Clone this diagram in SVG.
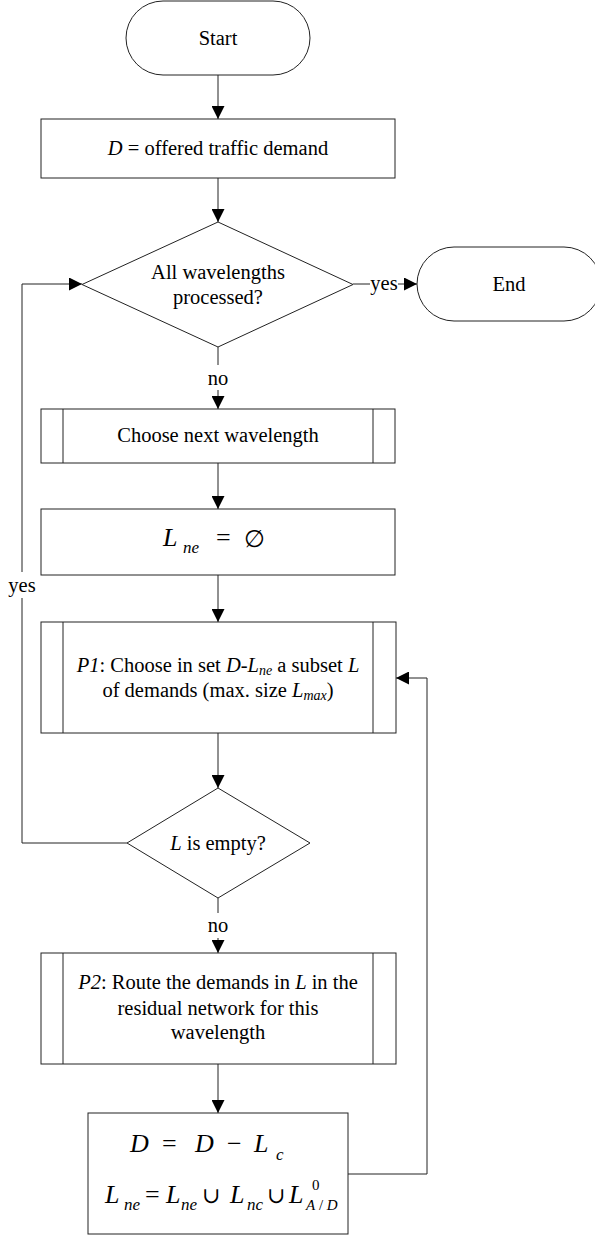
<svg xmlns="http://www.w3.org/2000/svg" width="595" height="1236" viewBox="0 0 595 1236" font-family="Liberation Serif, Times New Roman, serif">
<style>
.s{fill:#fff;stroke:#222;stroke-width:1}
.l{fill:none;stroke:#222;stroke-width:1}
.t{font-family:'Liberation Serif', serif;font-size:20.5px;fill:#000;text-anchor:middle}
.m{font-family:'Liberation Serif', 'DejaVu Serif', serif;fill:#000}
.i{font-style:italic}
</style>
<defs>
<marker id="ah" markerUnits="userSpaceOnUse" markerWidth="13" markerHeight="13" refX="13" refY="6.5" orient="auto">
<path d="M0,0 L13,6.5 L0,13 z" fill="#000"/>
</marker>
</defs>
<rect width="595" height="1236" fill="#fff"/>
<g id="connectors">
<line class="l" x1="218" y1="75" x2="218" y2="119" marker-end="url(#ah)"/>
<line class="l" x1="218" y1="178" x2="218" y2="222" marker-end="url(#ah)"/>
<line class="l" x1="353" y1="284" x2="370" y2="284"/>
<line class="l" x1="398" y1="284" x2="417" y2="284" marker-end="url(#ah)"/>
<text class="t" x="384" y="290" font-family="Liberation Serif, serif">yes</text>
<line class="l" x1="218" y1="347" x2="218" y2="365"/>
<text class="t" x="218" y="385" font-family="Liberation Serif, serif">no</text>
<line class="l" x1="218" y1="390" x2="218" y2="409" marker-end="url(#ah)"/>
<line class="l" x1="218" y1="463" x2="218" y2="509" marker-end="url(#ah)"/>
<line class="l" x1="218" y1="575" x2="218" y2="622" marker-end="url(#ah)"/>
<line class="l" x1="218" y1="733" x2="218" y2="788" marker-end="url(#ah)"/>
<polyline class="l" points="127,843 22,843 22,598"/>
<polyline class="l" points="22,572 22,284 82,284" marker-end="url(#ah)"/>
<text class="t" x="22" y="592" font-family="Liberation Serif, serif">yes</text>
<line class="l" x1="218" y1="898" x2="218" y2="913"/>
<text class="t" x="218" y="932" font-family="Liberation Serif, serif">no</text>
<line class="l" x1="218" y1="938" x2="218" y2="953" marker-end="url(#ah)"/>
<line class="l" x1="218" y1="1064" x2="218" y2="1113" marker-end="url(#ah)"/>
<polyline class="l" points="348,1174 427,1174 427,678 396,678" marker-end="url(#ah)"/>
</g>
<g id="start">
<rect class="s" x="126" y="1" width="184" height="74" rx="37" ry="37"/>
<text class="t" x="218" y="45" font-family="Liberation Serif, serif">Start</text>
</g>
<g id="demand">
<rect class="s" x="41" y="119" width="354" height="59"/>
<text class="t" x="218" y="155" font-family="Liberation Serif, serif"><tspan class="i">D</tspan> = offered traffic demand</text>
</g>
<g id="allwl">
<polygon class="s" points="218,222 353,284.5 218,347 82,284.5"/>
<text class="t" x="218" y="279" font-family="Liberation Serif, serif">All wavelengths</text>
<text class="t" x="218" y="304" font-family="Liberation Serif, serif">processed?</text>
</g>
<g id="end">
<rect class="s" x="417" y="247" width="184" height="74" rx="37" ry="37"/>
<text class="t" x="509" y="291" font-family="Liberation Serif, serif">End</text>
</g>
<g id="choose">
<rect class="s" x="41" y="409" width="354" height="54"/>
<line class="l" x1="63" y1="409" x2="63" y2="463"/>
<line class="l" x1="373" y1="409" x2="373" y2="463"/>
<text class="t" x="218" y="442" font-family="Liberation Serif, serif">Choose next wavelength</text>
</g>
<g id="lne-init" font-family="Liberation Serif, DejaVu Serif, serif">
<rect class="s" x="41" y="509" width="354" height="66"/>
<text class="m i" x="163" y="546" font-size="26">L</text>
<text class="m i" x="183" y="553" font-size="17">ne</text>
<text class="m" x="216" y="546" font-size="26">=</text>
<text class="m" x="244" y="547" font-size="24">∅</text>
</g>
<g id="p1">
<rect class="s" x="41" y="622" width="355" height="111"/>
<line class="l" x1="63" y1="622" x2="63" y2="733"/>
<line class="l" x1="373" y1="622" x2="373" y2="733"/>
<text class="t" x="218" y="672" font-family="Liberation Serif, serif"><tspan class="i">P1</tspan>: Choose in set <tspan class="i">D</tspan>-<tspan class="i">L</tspan><tspan class="i" font-size="14" dy="3">ne</tspan><tspan dy="-3"> a subset </tspan><tspan class="i">L</tspan></text>
<text class="t" x="218" y="697" font-family="Liberation Serif, serif">of demands (max. size <tspan class="i">L</tspan><tspan class="i" font-size="14" dy="3">max</tspan><tspan dy="-3">)</tspan></text>
</g>
<g id="empty">
<polygon class="s" points="218,788 310,843 218,898 127,843"/>
<text class="t" x="218" y="850" font-family="Liberation Serif, serif"><tspan class="i">L</tspan> is empty?</text>
</g>
<g id="p2">
<rect class="s" x="41" y="953" width="355" height="111"/>
<line class="l" x1="63" y1="953" x2="63" y2="1064"/>
<line class="l" x1="373" y1="953" x2="373" y2="1064"/>
<text class="t" x="218" y="989" font-family="Liberation Serif, serif"><tspan class="i">P2</tspan>: Route the demands in <tspan class="i">L</tspan> in the</text>
<text class="t" x="218" y="1015" font-family="Liberation Serif, serif">residual network for this</text>
<text class="t" x="218" y="1039" font-family="Liberation Serif, serif">wavelength</text>
</g>
<g id="update" font-family="Liberation Serif, DejaVu Serif, serif">
<rect class="s" x="88" y="1113" width="260" height="121"/>
<text class="m i" x="130" y="1152" font-size="26">D</text>
<text class="m" x="162" y="1152" font-size="26">=</text>
<text class="m i" x="195" y="1152" font-size="26">D</text>
<text class="m" x="227" y="1152" font-size="26">−</text>
<text class="m i" x="254" y="1152" font-size="26">L</text>
<text class="m i" x="276" y="1160" font-size="17">c</text>
<text class="m i" x="105" y="1203" font-size="26">L</text>
<text class="m i" x="124" y="1210" font-size="17">ne</text>
<text class="m" x="145" y="1203" font-size="26">=</text>
<text class="m i" x="166" y="1203" font-size="26">L</text>
<text class="m i" x="181" y="1210" font-size="17">ne</text>
<text class="m" x="202" y="1203" font-size="22">∪</text>
<text class="m i" x="230" y="1203" font-size="26">L</text>
<text class="m i" x="247" y="1210" font-size="17">nc</text>
<text class="m" x="267" y="1203" font-size="22">∪</text>
<text class="m i" x="289" y="1203" font-size="26">L</text>
<text class="m" x="312" y="1190" font-size="15">0</text>
<text class="m" x="306" y="1210" font-size="15"><tspan class="i">A</tspan> / <tspan class="i">D</tspan></text>
</g>
</svg>
